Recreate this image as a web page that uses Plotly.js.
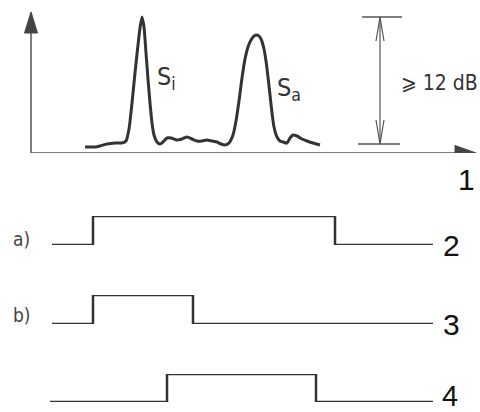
<!DOCTYPE html>
<html>
<head>
<meta charset="utf-8">
<script src="https://cdn.plot.ly/plotly-3.0.1.min.js"></script>
<style>html,body{margin:0;padding:0;background:#fff}#chart{width:480px;height:412px}</style>
</head>
<body>
<div id="chart"></div>
<script>
// Spectrum (x in horizontal units, y = level above baseline)
var specX = [85, 95, 100, 107, 115, 122, 126, 129, 132, 135, 138, 140, 142, 144, 146, 148, 150, 152, 154, 157, 160, 163, 167, 171, 177, 182, 187, 192, 197, 202, 207, 212, 217, 221, 225, 229, 233, 236, 239, 242, 245, 248, 251, 254, 257, 259, 261, 264, 266, 268, 270, 272, 274, 277, 280, 283, 287, 290, 293, 297, 302, 307, 313, 320];
var specY = [6, 6, 7, 9, 10, 10, 12, 24, 50, 80, 108, 125, 136, 126, 100, 74, 50, 30, 18, 11, 9, 11, 15, 15, 13, 14, 16, 14, 12, 12, 13, 12, 11, 9, 8, 10, 18, 32, 52, 75, 94, 106, 113, 117, 118, 117, 114, 104, 92, 76, 58, 40, 26, 16, 12, 11, 10, 15, 18, 17, 14, 12, 10, 8];
// Gate signals (edge positions and levels, step "hv")
var sig2X = [52, 93, 335, 433];
var sig2Y = [0, 1, 0, 0];
var sig3X = [52, 93, 193, 433];
var sig3Y = [0, 1, 0, 0];
var sig4X = [50, 167, 316, 433];
var sig4Y = [0, 1, 0, 0];
var labels = ['1', '2', '3', '4'];

var ink = '#333333';
var traces = [
  {x: specX, y: specY, type: 'scatter', mode: 'lines', line: {color: ink, width: 3, shape: 'spline', smoothing: 0.6}, xaxis: 'x', yaxis: 'y', hoverinfo: 'none', cliponaxis: false},
  {x: sig2X, y: sig2Y, type: 'scatter', mode: 'lines', line: {color: ink, width: 2.5, shape: 'hv'}, xaxis: 'x', yaxis: 'y2', hoverinfo: 'none', cliponaxis: false},
  {x: sig3X, y: sig3Y, type: 'scatter', mode: 'lines', line: {color: ink, width: 2.5, shape: 'hv'}, xaxis: 'x', yaxis: 'y3', hoverinfo: 'none', cliponaxis: false},
  {x: sig4X, y: sig4Y, type: 'scatter', mode: 'lines', line: {color: ink, width: 2.5, shape: 'hv'}, xaxis: 'x', yaxis: 'y4', hoverinfo: 'none', cliponaxis: false}
];

var H = 412;
function dom(lowPx, highPx) { return [(H - lowPx) / H, (H - highPx) / H]; }
var hid = {visible: false, fixedrange: true};
var cond = 'DejaVu Sans Condensed, DejaVu Sans, sans-serif';
var arial = 'Liberation Sans, Arial, sans-serif';

var layout = {
  width: 480, height: 412,
  margin: {l: 0, r: 0, t: 0, b: 0},
  paper_bgcolor: '#ffffff', plot_bgcolor: '#ffffff',
  showlegend: false,
  xaxis: Object.assign({range: [0, 480], domain: [0, 1]}, hid),
  yaxis: Object.assign({range: [0, 141], domain: dom(153, 12)}, hid),
  yaxis2: Object.assign({range: [0, 1], domain: dom(245, 216)}, hid),
  yaxis3: Object.assign({range: [0, 1], domain: dom(324, 295)}, hid),
  yaxis4: Object.assign({range: [0, 1], domain: dom(402, 374)}, hid),
  shapes: [
    // axes
    {type: 'line', xref: 'x', yref: 'y', x0: 31, y0: 0, x1: 31, y1: 120, line: {color: '#555', width: 1.5}},
    {type: 'line', xref: 'x', yref: 'y', x0: 31, y0: 0, x1: 456, y1: 0, line: {color: '#555', width: 1.5}},
    {type: 'path', xref: 'x', yref: 'y', path: 'M 24.5,120 L 31,141 L 37.5,120 Z', fillcolor: '#444', line: {color: '#444', width: 1}},
    {type: 'path', xref: 'x', yref: 'y', path: 'M 455,7.5 L 476,0 L 455,-7.5 Z', fillcolor: '#444', line: {color: '#444', width: 1}},
    // dimension marker
    {type: 'line', xref: 'x', yref: 'y', x0: 362, y0: 136, x1: 402, y1: 136, line: {color: '#555', width: 1.3}},
    {type: 'line', xref: 'x', yref: 'y', x0: 358, y0: 9, x1: 400, y1: 9, line: {color: '#555', width: 1.3}},
    {type: 'line', xref: 'x', yref: 'y', x0: 380, y0: 9, x1: 380, y1: 136, line: {color: '#555', width: 1.2}},
    {type: 'path', xref: 'x', yref: 'y', path: 'M 376,112 L 380,136 L 384,112', line: {color: '#555', width: 1.2}},
    {type: 'path', xref: 'x', yref: 'y', path: 'M 376,33 L 380,9 L 384,33', line: {color: '#555', width: 1.2}}
  ],
  annotations: [
    {xref: 'x', yref: 'y', x: 155, y: 75, xanchor: 'left', yanchor: 'middle', text: 'S<sub>i</sub>', showarrow: false, font: {family: cond, size: 25, color: ink}},
    {xref: 'x', yref: 'y', x: 275, y: 64, xanchor: 'left', yanchor: 'middle', text: 'S<sub>a</sub>', showarrow: false, font: {family: cond, size: 25, color: ink}},
    {xref: 'x', yref: 'y', x: 399, y: 70, xanchor: 'left', yanchor: 'middle', text: '\u2A7E 12 dB', showarrow: false, font: {family: cond, size: 21, color: ink}},
    {xref: 'paper', yref: 'paper', x: 477 / 480, y: (412 - 179) / 412, xanchor: 'right', yanchor: 'middle', text: labels[0], showarrow: false, font: {family: arial, size: 30, color: '#111'}},
    {xref: 'x', yref: 'y2', x: 441, y: 0, xanchor: 'left', yanchor: 'middle', text: labels[1], showarrow: false, font: {family: arial, size: 30, color: '#111'}},
    {xref: 'x', yref: 'y3', x: 441, y: 0, xanchor: 'left', yanchor: 'middle', text: labels[2], showarrow: false, font: {family: arial, size: 30, color: '#111'}},
    {xref: 'x', yref: 'y4', x: 441, y: 0, xanchor: 'left', yanchor: 'middle', yshift: 6, borderpad: 0, text: labels[3], showarrow: false, font: {family: arial, size: 29, color: '#111'}},
    {xref: 'x', yref: 'y2', x: 11, y: 0.2, xanchor: 'left', yanchor: 'middle', text: 'a)', showarrow: false, font: {family: cond, size: 19, color: '#444'}},
    {xref: 'x', yref: 'y3', x: 11, y: 0.3, xanchor: 'left', yanchor: 'middle', text: 'b)', showarrow: false, font: {family: cond, size: 19, color: '#444'}}
  ]
};

Plotly.newPlot('chart', traces, layout, {staticPlot: true, displayModeBar: false});
</script>
</body>
</html>
